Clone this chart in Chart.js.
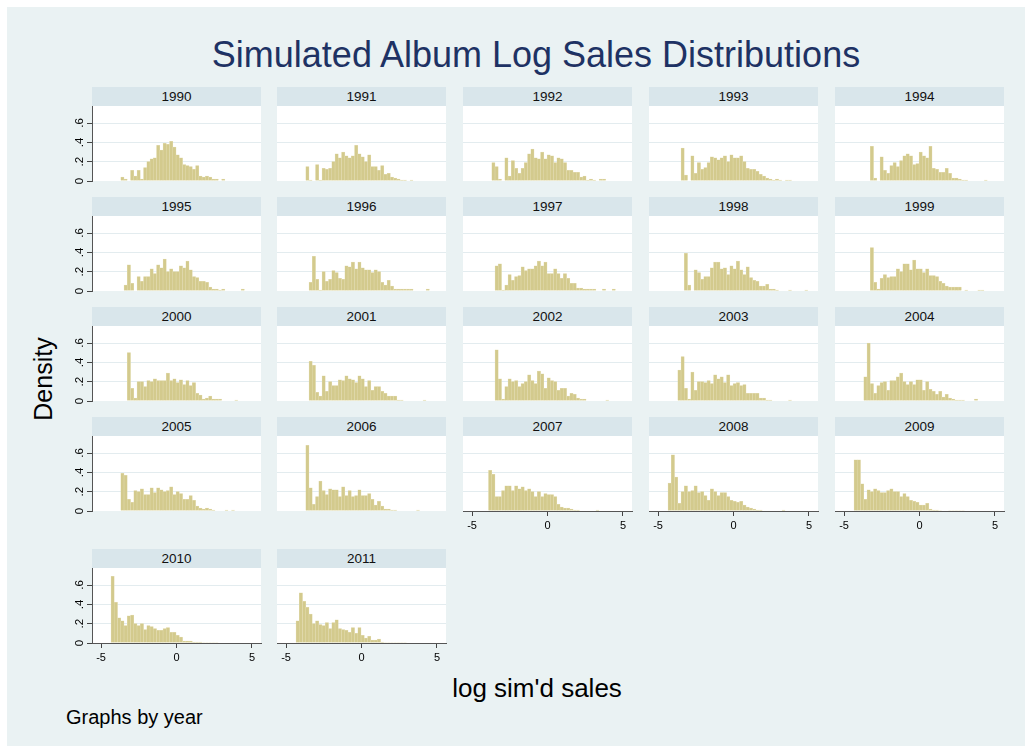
<!DOCTYPE html>
<html lang="en">
<head>
<meta charset="UTF-8">
<title>Simulated Album Log Sales Distributions</title>
<script src="https://cdn.jsdelivr.net/npm/chart.js"></script>
<style>
    body {
        margin: 0;
        background: #fff;
        font-family: "Liberation Sans", Arial, sans-serif;
    }
    #page {
        position: relative;
        width: 1032px;
        height: 753px;
        overflow: hidden;
    }
    #bg {
        position: absolute;
        left: 7px;
        top: 7px;
        width: 1018px;
        height: 739px;
        background: #eaf2f3;
    }
    .strip {
        position: absolute;
        width: 169px;
        height: 19px;
        line-height: 19px;
        background: #d9e6eb;
        font-size: 13.5px;
        text-align: center;
        color: #111;
    }
    canvas { position: absolute; }
    .txt { position: absolute; white-space: nowrap; }
    #title {
        left: 0; width: 1072px; top: 34px;
        text-align: center;
        font-size: 36px; line-height: 42px;
        color: #1e3264;
    }
    #ytitle {
        left: 43px; top: 379px;
        font-size: 25px;
        transform: translate(-50%, -50%) rotate(-90deg);
    }
    #xtitle {
        left: 537px; top: 688px;
        font-size: 26px;
        transform: translate(-50%, -50%);
    }
    #note {
        left: 66px; top: 717px;
        font-size: 20px;
        transform: translateY(-50%);
    }
</style>
</head>
<body>
<div id="page">
    <div id="bg"></div>
    <div class="txt" id="title">Simulated Album Log Sales Distributions</div>
    <div class="txt" id="ytitle">Density</div>
    <div class="txt" id="xtitle">log sim'd sales</div>
    <div class="txt" id="note">Graphs by year</div>
</div>

<script>
    // histogram bins shared by all years
    const binStart = -4.34;
    const binWidth = 0.2156;

    const years = [1990, 1991, 1992, 1993, 1994, 1995, 1996, 1997, 1998, 1999, 2000,
        2001, 2002, 2003, 2004, 2005, 2006, 2007, 2008, 2009, 2010, 2011];

    const xTicks = [-5, 0, 5];
    const yTicks = [0, 0.2, 0.4, 0.6];
    const yTickLabels = ['0', '.2', '.4', '.6'];

    // density per bin
    const d1990 = [0,0,0,0.04,0.02,0,0.11,0.05,0.11,0.02,0.14,0.2,0.23,0.24,0.37,0.32,0.39,0.38,0.41,0.35,0.27,0.24,0.17,0.16,0.15,0.12,0.16,0.05,0.04,0.05,0.04,0.02,0.02,0,0.02];
    const d1991 = [0,0,0,0.15,0.01,0,0.17,0.01,0.13,0.12,0.13,0.2,0.28,0.24,0.3,0.26,0.24,0.26,0.37,0.28,0.25,0.2,0.27,0.15,0.15,0.11,0.16,0.07,0.08,0.04,0.03,0.02,0.01,0.01,0,0.01];
    const d1992 = [0,0,0,0.19,0.15,0.02,0,0.24,0.05,0.21,0.13,0.08,0.13,0.19,0.28,0.33,0.24,0.23,0.3,0.23,0.27,0.26,0.19,0.24,0.23,0.19,0.11,0.11,0.09,0.09,0.04,0.05,0.01,0.02,0.01,0,0.02,0.02];
    const d1993 = [0,0,0,0,0.34,0.06,0,0.26,0.08,0.19,0.12,0.14,0.19,0.25,0.24,0.22,0.24,0.26,0.2,0.27,0.24,0.24,0.26,0.2,0.13,0.12,0.12,0.1,0.07,0.05,0.03,0.02,0.01,0.02,0.01,0,0.01,0.01];
    const d1994 = [0,0,0,0,0,0.36,0.03,0,0.25,0.11,0.08,0.16,0.19,0.15,0.21,0.26,0.28,0.26,0.17,0.18,0.3,0.26,0.24,0.36,0.13,0.12,0.09,0.09,0.13,0.08,0.03,0.03,0.02,0.01,0.01,0,0,0,0,0,0.01];
    const d1995 = [0,0,0,0,0.06,0.27,0.08,0,0.15,0.1,0.15,0.15,0.23,0.18,0.27,0.24,0.33,0.2,0.23,0.2,0.2,0.26,0.24,0.31,0.22,0.15,0.14,0.1,0.1,0.09,0.04,0.02,0.02,0.01,0.02,0,0,0,0,0,0.02];
    const d1996 = [0,0,0,0,0.09,0.36,0.12,0.01,0.2,0.1,0.12,0.21,0.19,0.13,0.12,0.26,0.25,0.3,0.23,0.3,0.24,0.22,0.22,0.19,0.22,0.2,0.09,0.06,0.11,0.05,0.02,0.02,0.02,0.02,0.02,0.02,0,0,0,0,0.02];
    const d1997 = [0,0,0,0,0.26,0.28,0.01,0.06,0.17,0.11,0.15,0.16,0.25,0.21,0.23,0.23,0.26,0.31,0.26,0.3,0.18,0.18,0.23,0.18,0.13,0.18,0.13,0.08,0.08,0.03,0.03,0.02,0.02,0.02,0.02,0,0,0.02,0,0,0.02];
    const d1998 = [0,0,0,0,0,0.39,0.06,0,0.22,0.19,0.12,0.15,0.15,0.24,0.3,0.3,0.23,0.24,0.17,0.26,0.23,0.31,0.22,0.17,0.25,0.14,0.11,0.1,0.05,0.05,0.07,0.02,0.02,0.01,0,0,0,0.01,0,0,0,0,0.01];
    const d1999 = [0,0,0,0,0,0.45,0.09,0.02,0.13,0.17,0.14,0.15,0.15,0.23,0.2,0.28,0.28,0.22,0.32,0.23,0.23,0.19,0.23,0.16,0.16,0.15,0.1,0.08,0.05,0.04,0.04,0.04,0.04,0,0.01,0,0,0,0.01,0.01];
    const d2000 = [0,0,0,0,0,0.5,0.13,0.03,0.2,0.2,0.15,0.21,0.2,0.23,0.21,0.21,0.21,0.29,0.21,0.23,0.19,0.22,0.17,0.21,0.16,0.19,0.08,0.06,0.02,0.03,0.05,0.02,0.02,0.02,0,0,0,0,0.01];
    const d2001 = [0,0,0,0,0.41,0.37,0.09,0.05,0.26,0.1,0.2,0.16,0.16,0.22,0.21,0.26,0.23,0.22,0.19,0.26,0.23,0.15,0.21,0.11,0.15,0.15,0.1,0.08,0.05,0.05,0.05,0.01,0.01,0,0,0,0,0,0,0.01];
    const d2002 = [0,0,0,0,0.53,0.23,0.02,0.15,0.23,0.2,0.21,0.15,0.18,0.2,0.27,0.21,0.18,0.31,0.28,0.13,0.24,0.21,0.2,0.11,0.13,0.13,0.05,0.08,0.07,0.03,0.02,0.02,0,0,0,0,0,0,0.01];
    const d2003 = [0,0,0,0.32,0.46,0.13,0.02,0.3,0.11,0.2,0.2,0.19,0.21,0.18,0.27,0.23,0.25,0.19,0.27,0.16,0.18,0.19,0.16,0.17,0.08,0.08,0.08,0.08,0.03,0.03,0.01,0.01,0,0,0,0,0,0.01];
    const d2004 = [0,0,0,0.25,0.6,0.18,0.08,0.16,0.19,0.2,0.11,0.21,0.21,0.25,0.29,0.2,0.17,0.2,0.17,0.22,0.22,0.11,0.2,0.12,0.1,0.07,0.1,0.04,0.07,0.03,0.02,0.01,0.01,0.01,0,0,0,0.02];
    const d2005 = [0,0,0,0.39,0.37,0.12,0.09,0.21,0.2,0.23,0.17,0.17,0.24,0.19,0.24,0.22,0.2,0.21,0.25,0.17,0.2,0.18,0.12,0.12,0.16,0.11,0.05,0.03,0.02,0.03,0.02,0.01,0,0,0,0.01,0,0.01];
    const d2006 = [0,0,0,0.68,0.24,0.07,0.15,0.31,0.21,0.17,0.23,0.22,0.22,0.15,0.25,0.16,0.21,0.15,0.16,0.22,0.16,0.16,0.18,0.12,0.06,0.1,0.05,0.02,0.02,0.01,0.01,0,0,0,0,0,0,0.01];
    const d2007 = [0,0,0.42,0.38,0.15,0.15,0.21,0.26,0.26,0.21,0.26,0.23,0.25,0.21,0.23,0.2,0.15,0.2,0.15,0.18,0.17,0.17,0.15,0.07,0.04,0.03,0.03,0.02,0.01,0.01,0,0,0,0,0,0.01];
    const d2008 = [0.29,0.58,0.35,0.08,0.2,0.26,0.2,0.21,0.26,0.19,0.2,0.16,0.11,0.23,0.2,0.16,0.19,0.19,0.15,0.11,0.1,0.09,0.1,0.06,0.04,0.03,0.02,0.01,0.01,0,0,0,0,0,0,0.01];
    const d2009 = [0.53,0.53,0.28,0.12,0.22,0.2,0.23,0.21,0.19,0.19,0.21,0.23,0.2,0.2,0.15,0.18,0.15,0.11,0.1,0.09,0.06,0.06,0.08,0.02,0.01,0.01,0.005,0,0,0.005,0.005,0.005,0.005,0.005];
    const d2010 = [0.69,0.42,0.26,0.23,0.18,0.28,0.29,0.2,0.18,0.2,0.14,0.18,0.17,0.15,0.13,0.13,0.15,0.16,0.11,0.11,0.08,0.06,0.02,0.02,0.02,0.01,0.01,0.01,0.005,0.005,0.005,0.005,0.005];
    const d2011 = [0.23,0.52,0.43,0.37,0.3,0.2,0.23,0.19,0.18,0.21,0.15,0.21,0.24,0.15,0.14,0.13,0.11,0.16,0.1,0.16,0.08,0.05,0.07,0.03,0.03,0.04,0.01,0.005,0.005,0.005,0.005,0.005,0.005,0.005];

    const densities = [d1990, d1991, d1992, d1993, d1994, d1995, d1996, d1997, d1998, d1999, d2000,
        d2001, d2002, d2003, d2004, d2005, d2006, d2007, d2008, d2009, d2010, d2011];

    // grid of small multiples
    const colLeft = [92, 277, 463, 649, 835];
    const rowTop = [87, 197, 307, 417, 549];
    const stripH = 19;
    const plotW = 169;
    const plotH = 75;
    const yAxisW = 32;
    const xAxisH = 30;

    const plotBg = {
        id: 'plotBg',
        beforeDraw(chart) {
            const a = chart.chartArea;
            chart.ctx.save();
            chart.ctx.fillStyle = '#ffffff';
            chart.ctx.fillRect(a.left, a.top, a.right - a.left, a.bottom - a.top);
            chart.ctx.restore();
        }
    };

    const page = document.getElementById('page');

    years.forEach((year, i) => {
        const row = Math.floor(i / 5);
        const col = i % 5;
        const showX = row === 4 || (row === 3 && col >= 2);
        const showY = col === 0;

        const strip = document.createElement('div');
        strip.className = 'strip';
        strip.style.left = colLeft[col] + 'px';
        strip.style.top = rowTop[row] + 'px';
        strip.textContent = year;
        page.appendChild(strip);

        const canvas = document.createElement('canvas');
        canvas.width = plotW + yAxisW + 2;
        canvas.height = plotH + xAxisH;
        canvas.style.left = (colLeft[col] - yAxisW) + 'px';
        canvas.style.top = (rowTop[row] + stripH) + 'px';
        page.appendChild(canvas);

        const points = densities[i].map((v, k) => ({ x: binStart + (k + 0.5) * binWidth, y: v }));

        new Chart(canvas, {
            type: 'bar',
            data: {
                datasets: [{
                    data: points,
                    backgroundColor: '#d3ca8d',
                    borderColor: '#e4ddb4',
                    borderWidth: 0.5,
                    barPercentage: 1,
                    categoryPercentage: 1
                }]
            },
            options: {
                responsive: false,
                animation: false,
                layout: { padding: { left: 0, right: 2, top: 0, bottom: 0 } },
                plugins: {
                    legend: { display: false },
                    tooltip: { enabled: false }
                },
                scales: {
                    x: {
                        type: 'linear',
                        min: -5.6,
                        max: 5.6,
                        offset: false,
                        afterBuildTicks: s => { s.ticks = xTicks.map(v => ({ value: v })); },
                        afterFit: s => {
                            s.height = xAxisH;
                            s.paddingLeft = 0;
                            s.paddingRight = 0;
                        },
                        ticks: {
                            display: showX,
                            padding: 3,
                            color: '#000',
                            font: { size: 11, family: '"Liberation Sans", Arial, sans-serif' },
                            maxRotation: 0,
                            callback: v => String(v)
                        },
                        grid: {
                            display: showX,
                            offset: false,
                            drawOnChartArea: false,
                            tickLength: 5,
                            tickColor: '#444'
                        },
                        border: { display: showX, color: '#555' }
                    },
                    y: {
                        min: 0,
                        max: 0.776,
                        afterBuildTicks: s => { s.ticks = yTicks.map(v => ({ value: v })); },
                        afterFit: s => {
                            s.width = yAxisW;
                            s.paddingTop = 0;
                            s.paddingBottom = 0;
                        },
                        ticks: {
                            display: showY,
                            minRotation: 90,
                            maxRotation: 90,
                            crossAlign: 'center',
                            padding: 2,
                            color: '#000',
                            font: { size: 11.5, family: '"Liberation Sans", Arial, sans-serif' },
                            callback: (v, idx) => yTickLabels[idx]
                        },
                        grid: {
                            color: c => (c.tick && c.tick.value === 0) ? 'rgba(0,0,0,0)' : '#e3ecef',
                            drawTicks: showY,
                            tickLength: 5,
                            tickColor: '#444'
                        },
                        border: { display: showY, color: '#555' }
                    }
                }
            },
            plugins: [plotBg]
        });
    });
</script>
</body>
</html>
